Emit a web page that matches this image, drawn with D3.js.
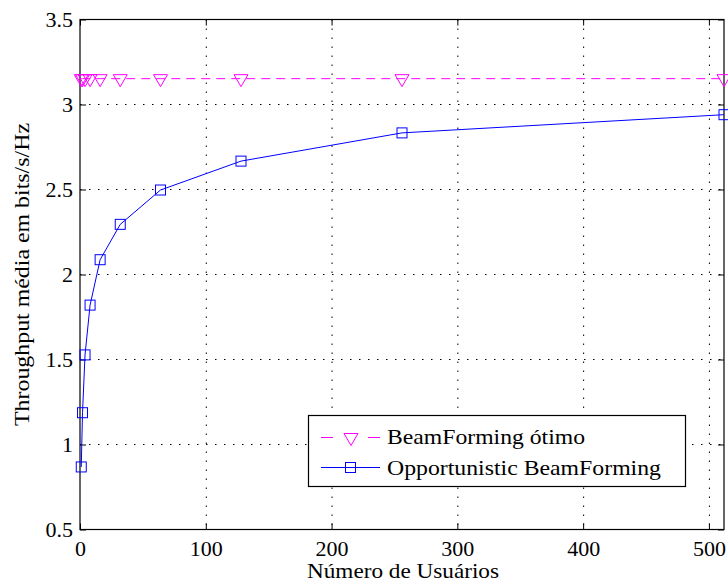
<!DOCTYPE html>
<html><head><meta charset="utf-8">
<script src="https://cdn.jsdelivr.net/npm/d3@7"></script>
<style>body{margin:0;background:#fff}svg{display:block}</style>
</head><body><svg id="c" width="728" height="586"></svg>
<script>
const users = [1,2,4,8,16,32,64,128,256,512];
const optimo = [3.152,3.152,3.152,3.152,3.152,3.152,3.152,3.152,3.152,3.152];
const opportunistic = [0.868,1.187,1.527,1.82,2.087,2.295,2.497,2.667,2.833,2.94];
const xTicks = [0,100,200,300,400,500];
const yTicks = [0.5,1,1.5,2,2.5,3,3.5];
const seriesNames = ["BeamForming ótimo","Opportunistic BeamForming"];

const svg = d3.select("#c");
const L=80,R=724,T=19.5,B=529.5;
const x = d3.scaleLinear().domain([0,512]).range([L,R]);
const y = d3.scaleLinear().domain([0.5,3.5]).range([B,T]);
const SERIF = "'Liberation Serif'";

// grid
const g = svg.append("g");
g.selectAll(".gx").data(xTicks.filter(d=>d>0)).enter().append("line")
 .attr("x1",d=>x(d)+0.5).attr("x2",d=>x(d)+0.5).attr("y1",T).attr("y2",B)
 .attr("stroke","#000").attr("stroke-width",1).attr("stroke-dasharray","1.5,7.5");
g.selectAll(".gy").data(yTicks.filter(d=>d>0.5&&d<3.5)).enter().append("line")
 .attr("y1",d=>y(d)).attr("y2",d=>y(d)).attr("x1",L).attr("x2",R)
 .attr("stroke","#000").attr("stroke-width",1).attr("stroke-dasharray","1.5,7.5");

// axes
const xa = svg.append("g").attr("transform",`translate(0,${B})`)
 .call(d3.axisBottom(x).tickValues(xTicks).tickSize(-6).tickPadding(11).tickFormat(d3.format("d")));
const xt = svg.append("g").attr("transform",`translate(0,${T})`)
 .call(d3.axisTop(x).tickValues(xTicks).tickSize(-6).tickFormat(""));
const ya = svg.append("g").attr("transform",`translate(${L},0)`)
 .call(d3.axisLeft(y).tickValues(yTicks).tickSize(-6).tickPadding(7).tickFormat(d=>String(d)));
const yr = svg.append("g").attr("transform",`translate(${R},0)`)
 .call(d3.axisRight(y).tickValues(yTicks).tickSize(-6).tickFormat(""));
[xa,xt,ya,yr].forEach(a=>{
  a.select(".domain").remove();
  a.attr("font-family",null).attr("font-size",null);
  a.selectAll("line").attr("stroke","#000");
  a.selectAll("text").style("font-size","22px").attr("fill","#000").style("font-family",SERIF);
});
svg.append("rect").attr("x",L).attr("y",T).attr("width",R-L).attr("height",B-T)
 .attr("fill","none").attr("stroke","#000").attr("stroke-width",1.2);

// labels
svg.append("text").attr("x",307).attr("y",578).style("font-family",SERIF)
 .style("font-size","21px").attr("textLength",192).attr("lengthAdjust","spacingAndGlyphs").text("Número de Usuários");
svg.append("text").attr("transform",`translate(29,426) rotate(-90)`).style("font-family",SERIF)
 .style("font-size","21px").attr("textLength",303).attr("lengthAdjust","spacingAndGlyphs").text("Throughput média em bits/s/Hz");

const line = d3.line().x(d=>x(d[0])).y(d=>y(d[1]));
const d1 = users.map((u,i)=>[u,optimo[i]]);
const d2 = users.map((u,i)=>[u,opportunistic[i]]);
const MAG="#ff00ff", BLU="#0000ff";
const tri = (cx,cy)=>`M${cx-7},${cy-4}L${cx+7},${cy-4}L${cx},${cy+8}Z`;

svg.append("path").attr("d",line(d1)).attr("fill","none").attr("stroke",MAG).attr("stroke-width",1).attr("stroke-dasharray","9,6");
svg.selectAll(".t").data(d1).enter().append("path").attr("d",d=>tri(x(d[0]),y(d[1])))
 .attr("fill","none").attr("stroke",MAG).attr("stroke-width",1);
svg.append("path").attr("d",line(d2)).attr("fill","none").attr("stroke",BLU).attr("stroke-width",1);
svg.selectAll(".s").data(d2).enter().append("rect").attr("x",d=>x(d[0])-5).attr("y",d=>y(d[1])-5)
 .attr("width",10).attr("height",10).attr("fill","none").attr("stroke",BLU).attr("stroke-width",1);

// legend
const lg = svg.append("g");
lg.append("rect").attr("x",308.5).attr("y",415.5).attr("width",377).attr("height",71)
 .attr("fill","#fff").attr("stroke","#000").attr("stroke-width",1.2);
const ly1=437.5, ly2=467.5;
lg.append("line").attr("x1",321).attr("x2",333).attr("y1",ly1).attr("y2",ly1).attr("stroke",MAG);
lg.append("line").attr("x1",368).attr("x2",380).attr("y1",ly1).attr("y2",ly1).attr("stroke",MAG);
lg.append("path").attr("d",tri(351,ly1)).attr("fill","none").attr("stroke",MAG);
lg.append("line").attr("x1",321).attr("x2",380).attr("y1",ly2).attr("y2",ly2).attr("stroke",BLU);
lg.append("rect").attr("x",345.5).attr("y",ly2-5).attr("width",10).attr("height",10).attr("fill","none").attr("stroke",BLU);
lg.append("text").attr("x",387).attr("y",ly1+6).style("font-family",SERIF).style("font-size","22px")
 .attr("textLength",198).attr("lengthAdjust","spacingAndGlyphs").text(seriesNames[0]);
lg.append("text").attr("x",387).attr("y",ly2+7).style("font-family",SERIF).style("font-size","22px")
 .attr("textLength",274).attr("lengthAdjust","spacingAndGlyphs").text(seriesNames[1]);
</script></body></html>
